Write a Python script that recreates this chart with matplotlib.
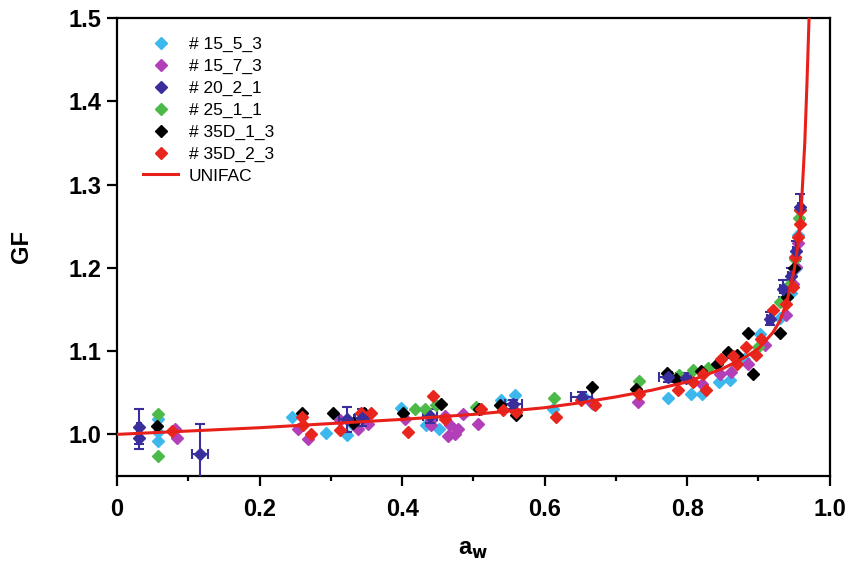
import matplotlib
matplotlib.use("Agg")
import matplotlib.pyplot as plt
from matplotlib.ticker import MultipleLocator, FuncFormatter, FormatStrFormatter
from matplotlib.lines import Line2D

plt.rcParams['font.family'] = ['Liberation Sans', 'DejaVu Sans']

# ---- measured growth factors ----
aw_15_5_3 = [0.058, 0.058, 0.058, 0.245, 0.293, 0.323, 0.330, 0.399, 0.434, 0.452, 0.539, 0.558,
             0.612, 0.655, 0.668, 0.773, 0.806, 0.821, 0.845, 0.860, 0.880, 0.902, 0.930, 0.945,
             0.952, 0.956]
gf_15_5_3 = [1.018, 1.003, 0.992, 1.021, 1.002, 0.999, 1.012, 1.032, 1.011, 1.007, 1.041, 1.047,
             1.031, 1.045, 1.036, 1.044, 1.049, 1.048, 1.063, 1.065, 1.090, 1.121, 1.140, 1.170,
             1.200, 1.240]

aw_15_7_3 = [0.082, 0.084, 0.254, 0.268, 0.313, 0.338, 0.352, 0.404, 0.441, 0.441, 0.460, 0.467,
             0.474, 0.478, 0.464, 0.486, 0.507, 0.667, 0.731, 0.821, 0.846, 0.862, 0.885, 0.909,
             0.939, 0.948, 0.953, 0.956]
gf_15_7_3 = [1.007, 0.996, 1.007, 0.995, 1.017, 1.007, 1.013, 1.019, 1.017, 1.011, 1.022, 1.011,
             1.001, 1.007, 0.998, 1.025, 1.013, 1.038, 1.039, 1.061, 1.073, 1.075, 1.084, 1.107,
             1.143, 1.180, 1.201, 1.230]

aw_20_2_1 = [0.031, 0.031, 0.116, 0.322, 0.344, 0.439, 0.556, 0.652, 0.773, 0.798, 0.916, 0.934,
             0.945, 0.952, 0.958]
gf_20_2_1 = [1.009, 0.996, 0.976, 1.018, 1.020, 1.022, 1.036, 1.045, 1.069, 1.068, 1.139, 1.175,
             1.190, 1.220, 1.273]
gf_err_20_2_1 = [0.021, 0.013, 0.036, 0.015, 0.010, 0.008, 0.005, 0.006, 0.006, 0.006, 0.008,
                 0.010, 0.010, 0.012, 0.016]
aw_err_20_2_1 = [0.003, 0.003, 0.011, 0.010, 0.010, 0.010, 0.012, 0.015, 0.012, 0.008, 0.004,
                 0.004, 0.003, 0.003, 0.003]

aw_25_1_1 = [0.058, 0.058, 0.418, 0.432, 0.447, 0.504, 0.613, 0.733, 0.788, 0.808, 0.829, 0.900,
             0.930, 0.944, 0.951, 0.957, 0.958]
gf_25_1_1 = [1.025, 0.974, 1.031, 1.031, 1.035, 1.033, 1.044, 1.064, 1.071, 1.077, 1.080, 1.105,
             1.159, 1.180, 1.210, 1.260, 1.270]

aw_35D_1_3 = [0.056, 0.259, 0.303, 0.331, 0.346, 0.401, 0.454, 0.508, 0.537, 0.560, 0.666, 0.728,
              0.772, 0.785, 0.820, 0.842, 0.857, 0.870, 0.885, 0.892, 0.930, 0.940, 0.950]
gf_35D_1_3 = [1.010, 1.026, 1.026, 1.014, 1.026, 1.026, 1.036, 1.031, 1.035, 1.023, 1.057, 1.054,
              1.074, 1.067, 1.076, 1.084, 1.099, 1.095, 1.122, 1.073, 1.122, 1.165, 1.200]

aw_35D_2_3 = [0.077, 0.259, 0.261, 0.272, 0.313, 0.342, 0.357, 0.408, 0.444, 0.460, 0.511, 0.542,
              0.560, 0.616, 0.651, 0.670, 0.733, 0.787, 0.808, 0.822, 0.827, 0.848, 0.864, 0.870,
              0.883, 0.896, 0.903, 0.920, 0.939, 0.949, 0.951, 0.955, 0.958, 0.958]
gf_35D_2_3 = [1.004, 1.021, 1.011, 1.000, 1.005, 1.026, 1.026, 1.003, 1.046, 1.019, 1.030, 1.029,
              1.027, 1.021, 1.041, 1.035, 1.049, 1.053, 1.063, 1.073, 1.053, 1.091, 1.094, 1.085,
              1.105, 1.095, 1.115, 1.149, 1.157, 1.177, 1.213, 1.237, 1.253, 1.270]

# ---- UNIFAC model curve ----
aw_unifac = [0.0, 0.1, 0.2, 0.3, 0.4, 0.5, 0.6, 0.65, 0.7, 0.75, 0.8, 0.85, 0.88, 0.9, 0.92,
             0.93, 0.94, 0.95, 0.955, 0.96, 0.965, 0.968, 0.971]
gf_unifac = [1.000, 1.004, 1.008, 1.013, 1.018, 1.024, 1.032, 1.038, 1.045, 1.053, 1.063, 1.079,
             1.092, 1.103, 1.122, 1.136, 1.160, 1.197, 1.225, 1.270, 1.350, 1.420, 1.500]

labels = ['# 15_5_3', '# 15_7_3', '# 20_2_1', '# 25_1_1', '# 35D_1_3', '# 35D_2_3']
colors = ['#3cb8ec', '#b23fb8', '#3a2e9c', '#4cba48', '#000000', '#e8261e']
MS = 6.5

fig = plt.figure(figsize=(8.51, 5.62), dpi=100)
ax = fig.add_axes([0.1375, 0.153, 0.8375, 0.815])

series = [(aw_15_5_3, gf_15_5_3), (aw_15_7_3, gf_15_7_3), (aw_20_2_1, gf_20_2_1),
          (aw_25_1_1, gf_25_1_1), (aw_35D_1_3, gf_35D_1_3), (aw_35D_2_3, gf_35D_2_3)]

handles = []
for (x, y), lab, col in zip(series, labels, colors):
    if lab == '# 20_2_1':
        ax.errorbar(x, y, yerr=gf_err_20_2_1, xerr=aw_err_20_2_1, fmt='D', color=col,
                    ms=MS, mec=col, elinewidth=1.5, capsize=3.5, capthick=1.5, zorder=3)
    else:
        ax.plot(x, y, 'D', color=col, ms=MS, mec=col, ls='none', zorder=3)
    handles.append(Line2D([], [], marker='D', color=col, mec=col, ms=MS, ls='none', label=lab))

line_unifac, = ax.plot(aw_unifac, gf_unifac, '-', color='#e8201a', lw=2.2, label='UNIFAC',
                       zorder=4)
handles.append(line_unifac)

ax.set_xlim(0, 1.0)
ax.set_ylim(0.95, 1.5)
ax.xaxis.set_major_locator(MultipleLocator(0.2))
ax.xaxis.set_minor_locator(MultipleLocator(0.1))
ax.yaxis.set_major_locator(MultipleLocator(0.1))
ax.xaxis.set_major_formatter(FuncFormatter(lambda v, p: '0' if abs(v) < 1e-9 else f'{v:.1f}'))
ax.yaxis.set_major_formatter(FormatStrFormatter('%.1f'))

for s in ax.spines.values():
    s.set_linewidth(1.6)
ax.tick_params(which='major', direction='out', length=7, width=1.6, labelsize=17)
ax.tick_params(axis='x', which='major', pad=9)
ax.tick_params(axis='y', which='major', pad=4)
ax.tick_params(which='minor', direction='out', length=3.5, width=1.6)
ax.tick_params(top=False, right=False)
for t in ax.get_xticklabels() + ax.get_yticklabels():
    t.set_fontweight('bold')

ax.set_xlabel(r'a$_\mathbf{w}$', fontsize=17, fontweight='bold', labelpad=12)
ax.set_ylabel('GF', fontsize=17, fontweight='bold', labelpad=26)

ax.legend(handles=handles, loc='upper left', bbox_to_anchor=(0.02, 0.985), frameon=False,
          fontsize=12.5, handlelength=2.0, handletextpad=0.6, labelspacing=0.38,
          borderaxespad=0.3)

fig.savefig('out.png', dpi=100)
